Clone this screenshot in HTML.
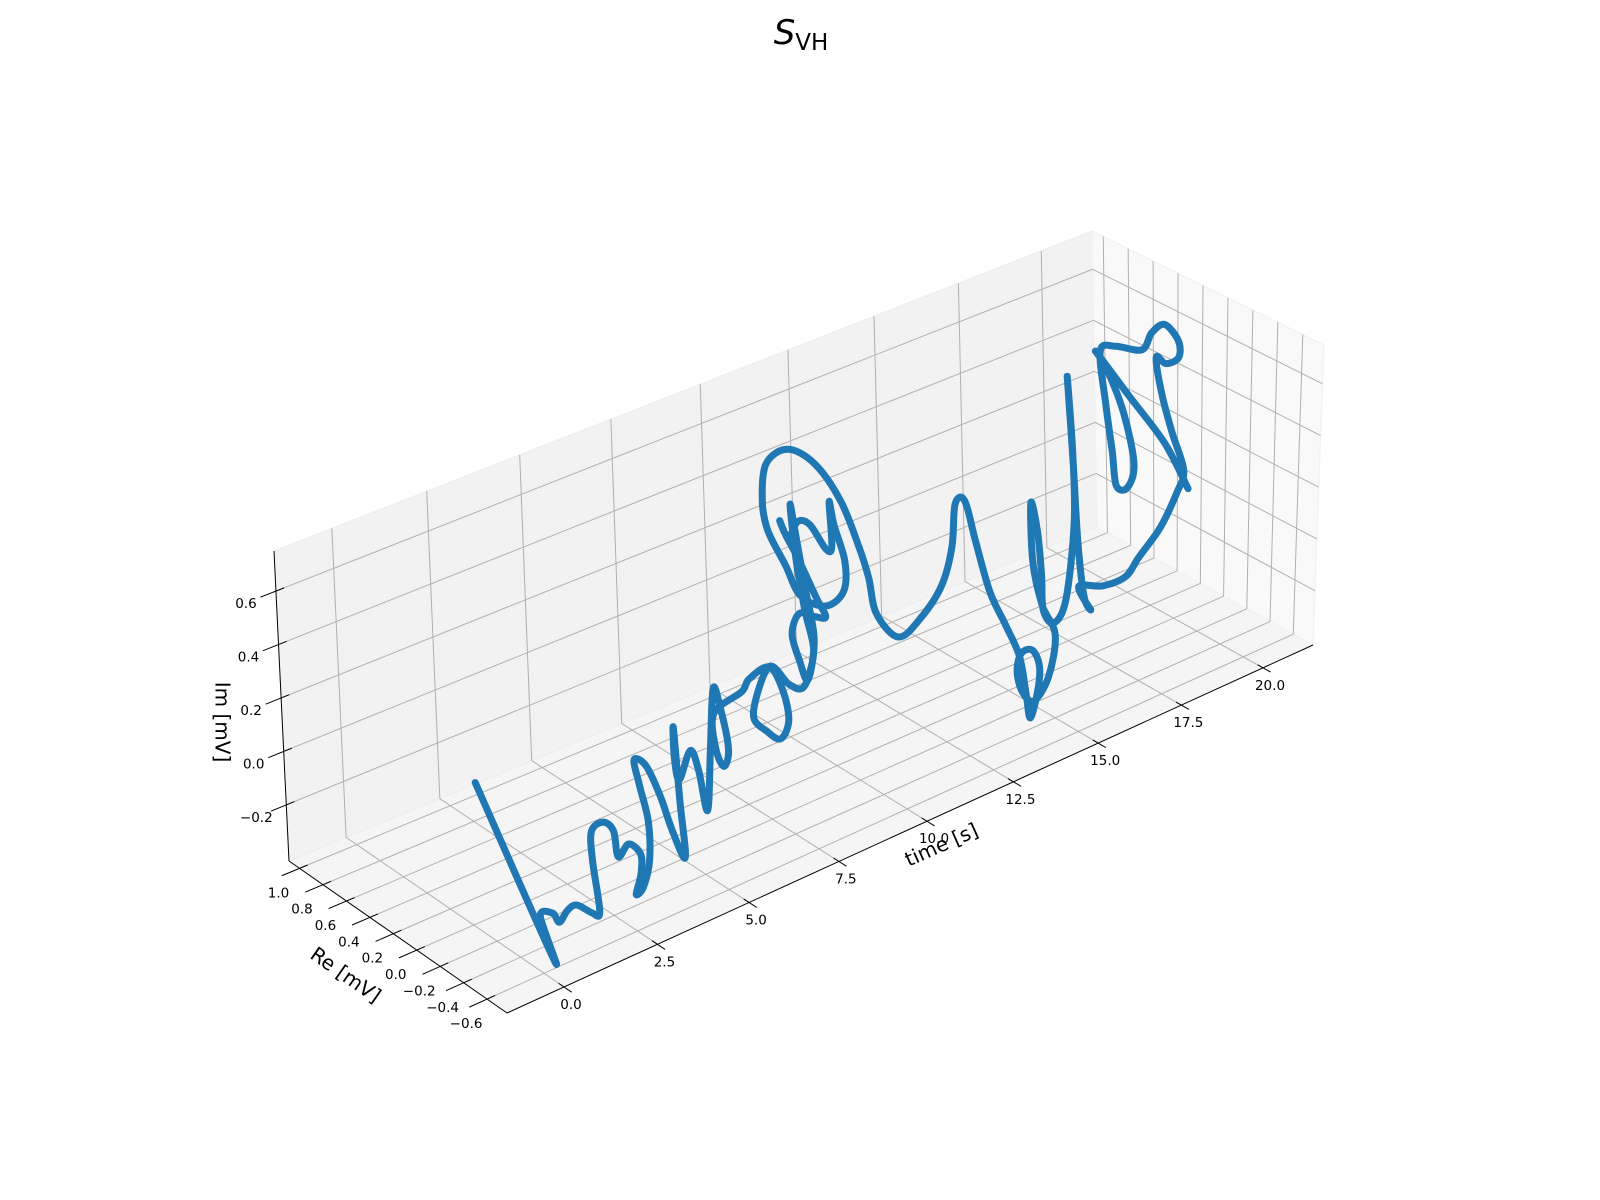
<!DOCTYPE html>
<html><head><meta charset="utf-8"><style>
html,body{margin:0;padding:0;background:#fff;}
svg{display:block;font-family:"DejaVu Sans","Liberation Sans",sans-serif;}
</style></head><body>
<svg id="chart" width="1600" height="1200" viewBox="0 0 1600 1200" xmlns="http://www.w3.org/2000/svg">
<rect width="1600" height="1200" fill="#ffffff"/>
<text x="801" y="44" text-anchor="middle" font-size="34" fill="#000"><tspan font-style="italic">S</tspan><tspan font-size="23" dy="6">VH</tspan></text>
<g id="panes"></g>
<g id="grid"></g>
<g id="axes"></g>
<g id="series"></g>
<text x="0" y="0" font-size="20" text-anchor="middle" dominant-baseline="middle" transform="translate(221,722) rotate(90)">Im [mV]</text>
<text x="0" y="0" font-size="20" text-anchor="middle" dominant-baseline="middle" transform="translate(345,976) rotate(35)">Re [mV]</text>
<text x="0" y="0" font-size="20" text-anchor="middle" dominant-baseline="middle" transform="translate(942,846) rotate(-24)">time [s]</text>
</svg>
<script>
const timeVals = [0.00,0.10,0.40,0.60,0.75,0.90,1.05,1.30,1.45,1.60,1.70,1.85,2.00,2.10,2.25,2.45,2.55,2.65,2.75,2.85,3.00,3.15,3.30,3.40,3.55,3.75,3.95,
4.05,4.20,4.30,4.40,4.50,4.60,4.75,4.85,4.95,5.05,5.15,5.25,5.35,5.45,5.60,5.70,5.85,6.00,6.10,6.20,6.30,6.40,6.55,6.70,6.80,6.90,7.00,
7.30,7.60,8.30,8.40,8.50,8.60,8.70,8.80,8.90,9.00,9.10,9.20,9.30,9.40,9.50,9.60,9.70,9.80,9.90,10.00,10.10,10.20,10.30,10.40,10.50,10.60,10.70,10.80,10.90,11.00,11.10,11.20,11.30,11.40,11.50,11.60,11.75,11.90,12.05,12.20,12.35,12.50,12.60,
12.75,12.90,13.05,13.20,13.35,13.45,13.55,13.65,13.75,13.85,13.95,14.05,14.15,14.25,14.35,14.45,14.55,14.65,14.75,14.85,14.95,15.05,15.15,15.25,15.35,15.90,16.00,16.10,16.20,16.30,16.40,16.50,16.60,16.70,16.85,17.20,17.35,17.50,17.65,18.30,18.60,18.75,19.20,19.35,19.45,19.50,19.60,19.70,19.75,19.80,19.85,19.90,19.95,20.00,20.05,20.10,20.20,20.30,20.40];
const reVals = [-0.03,-0.65,-0.44,-0.48,-0.49,-0.51,-0.54,-0.59,-0.61,-0.50,-0.46,-0.51,-0.55,-0.56,-0.60,-0.64,-0.61,-0.54,-0.57,-0.59,-0.53,-0.41,-0.32,-0.39,-0.46,-0.50,-0.55,
-0.47,-0.37,-0.35,-0.36,-0.42,-0.46,-0.49,-0.48,-0.47,-0.50,-0.54,-0.47,-0.37,-0.33,-0.51,-0.54,-0.66,-0.73,-0.75,-0.66,-0.52,-0.37,-0.45,-0.57,-0.65,-0.68,-0.68,
-0.52,-0.36,-0.11,-0.14,-0.18,-0.22,-0.14,-0.04,0.05,0.02,-0.08,-0.14,-0.03,0.14,0.27,0.35,0.31,0.26,0.19,0.09,0.07,0.12,0.11,0.05,0.09,0.27,0.51,0.66,0.83,0.90,0.89,0.74,0.55,0.37,0.25,0.20,0.18,0.04,-0.10,-0.23,-0.27,-0.25,-0.30,
-0.35,-0.43,-0.52,-0.60,-0.62,-0.63,-0.66,-0.64,-0.55,-0.43,-0.37,-0.39,-0.46,-0.55,-0.57,-0.43,-0.32,-0.27,-0.30,-0.31,-0.30,-0.36,-0.43,-0.46,-0.41,-0.21,-0.24,-0.26,-0.29,-0.32,-0.19,-0.36,-0.52,-0.60,-0.73,-0.76,-0.77,-0.63,-0.50,-0.28,-0.28,-0.34,-0.22,-0.07,0.06,0.15,0.39,0.54,0.51,0.47,0.45,0.37,0.33,0.43,0.58,0.68,0.43,0.17,0.00];
const imVals = [0.13,-0.35,-0.27,-0.26,-0.30,-0.26,-0.24,-0.27,-0.27,-0.12,-0.03,0.01,-0.02,-0.12,-0.07,-0.11,-0.20,-0.30,-0.27,-0.17,-0.05,0.04,0.10,0.09,-0.01,-0.14,-0.24,
-0.05,0.18,0.05,-0.03,0.09,0.02,-0.13,0.09,0.31,0.24,0.09,0.00,0.04,0.15,0.27,0.32,0.39,0.31,0.20,0.10,0.08,0.10,0.29,0.25,0.25,0.31,0.40,
0.48,0.61,0.71,0.56,0.39,0.21,0.03,0.07,0.14,0.22,0.23,0.24,0.28,0.37,0.42,0.45,0.39,0.46,0.46,0.39,0.40,0.55,0.46,0.33,0.20,0.09,0.06,0.13,0.21,0.30,0.44,0.53,0.52,0.42,0.27,0.16,0.02,-0.04,0.06,0.21,0.36,0.51,0.53,
0.38,0.20,0.09,-0.02,-0.17,-0.26,-0.15,-0.07,-0.04,-0.09,-0.18,-0.26,-0.28,-0.17,-0.01,0.06,0.19,0.40,0.29,0.12,-0.02,-0.06,0.04,0.34,0.59,0.80,0.47,0.17,-0.04,-0.09,-0.04,0.00,0.07,0.16,0.30,0.42,0.50,0.60,0.71,0.76,0.72,0.75,0.76,0.78,0.71,0.62,0.57,0.51,0.31,0.13,0.00,0.01,0.11,0.28,0.41,0.45,0.33,0.21,0.07];
const timeTicks = [0, 2.5, 5, 7.5, 10, 12.5, 15, 17.5, 20];
const timeTickLabels = ["0.0","2.5","5.0","7.5","10.0","12.5","15.0","17.5","20.0"];
const reTicks = [-0.6, -0.4, -0.2, 0.0, 0.2, 0.4, 0.6, 0.8, 1.0];
const reTickLabels = ["\u22120.6","\u22120.4","\u22120.2","0.0","0.2","0.4","0.6","0.8","1.0"];
const imTicks = [-0.2, 0.0, 0.2, 0.4, 0.6];
const imTickLabels = ["\u22120.2","0.0","0.2","0.4","0.6"];

const RE_MIN = -0.77, RE_MAX = 1.09, IM_MIN = -0.41, IM_MAX = 0.75;
const NS = "http://www.w3.org/2000/svg";

function tFrac(t){ return (57 + 37.76*t/(1+0.00402*t))/806; }
function rFrac(r){ return (r - RE_MIN)/(RE_MAX - RE_MIN); }
function zFrac(z){ return (z - IM_MIN)/(IM_MAX - IM_MIN); }
function projF(u, v, w){
  const fx = 507 + 806*u + v*(-218 + 2*u);
  const fy = 1013 - 368*u + v*(-152 + 34*u);
  const vx = 1 + 10*u - 16*v, vy = -314 + 14*u + 4*v;
  return [fx + vx*w, fy + vy*w];
}
function proj(t, r, z){ return projF(tFrac(t), rFrac(r), zFrac(z)); }

function mk(tag, attrs, parent){
  const el = document.createElementNS(NS, tag);
  for (const k in attrs) el.setAttribute(k, attrs[k]);
  parent.appendChild(el);
  return el;
}
function poly(pts){ return pts.map(p => p[0].toFixed(1)+","+p[1].toFixed(1)).join(" "); }

const panes = document.getElementById("panes");
const grid = document.getElementById("grid");
const axes = document.getElementById("axes");
const series = document.getElementById("series");

let p = mk("polygon", {points: poly([projF(0,0,0),projF(1,0,0),projF(1,1,0),projF(0,1,0)]), fill:"#f5f5f5", stroke:"#f0f0f0"}, panes);


p = mk("polygon", {points: poly([projF(0,1,0),projF(1,1,0),projF(1,1,1),projF(0,1,1)]), fill:"#f2f2f2", stroke:"#ededed"}, panes);


p = mk("polygon", {points: poly([projF(1,0,0),projF(1,1,0),projF(1,1,1),projF(1,0,1)]), fill:"#f9f9f9", stroke:"#f0f0f0"}, panes);



function gline(a, b, name){
  const l = mk("line", {x1:a[0], y1:a[1], x2:b[0], y2:b[1], stroke:"#b0b0b0", "stroke-width":1}, grid);
  
  
}
timeTicks.forEach(t => {
  const u = tFrac(t);
  gline(projF(u,0,0), projF(u,1,0), "time-grid-floor");
  gline(projF(u,1,0), projF(u,1,1), "time-grid-back");
});
reTicks.forEach(r => {
  const v = rFrac(r);
  gline(projF(0,v,0), projF(1,v,0), "re-grid-floor");
  gline(projF(1,v,0), projF(1,v,1), "re-grid-side");
});
imTicks.forEach(z => {
  const w = zFrac(z);
  gline(projF(0,1,w), projF(1,1,w), "im-grid-back");
  gline(projF(1,1,w), projF(1,0,w), "im-grid-side");
});

function aline(a, b, name){
  const l = mk("line", {x1:a[0], y1:a[1], x2:b[0], y2:b[1], stroke:"#000", "stroke-width":1}, axes);
  
  
}
function label(x, y, txt, name){
  const tx = mk("text", {x:x, y:y, "font-size":13.5, "text-anchor":"middle", "dominant-baseline":"middle", fill:"#000"}, axes);
  tx.textContent = txt;
  
  
}
aline(projF(0,0,0), projF(1,0,0), "x-axis-line");
aline(projF(0,0,0), projF(0,1,0), "y-axis-line");
aline(projF(0,1,0), projF(0,1,1), "z-axis-line");

timeTicks.forEach((t,i) => {
  const u = tFrac(t);
  aline(projF(u,0.025,0), projF(u,-0.035,0), "x-tick");
  const q = projF(u,0,0);
  label(q[0]+7, q[1]+18, timeTickLabels[i], "x-tick-label");
});
reTicks.forEach((r,i) => {
  const v = rFrac(r);
  aline(projF(0.01,v,0), projF(-0.022,v,0), "y-tick");
  const q = projF(0,v,0);
  label(q[0]-21, q[1]+25, reTickLabels[i], "y-tick-label");
});
imTicks.forEach((z,i) => {
  const w = zFrac(z);
  aline(projF(0.01,1,w), projF(-0.019,1,w), "z-tick");
  const q = projF(0,1,w);
  label(q[0]-30, q[1]+13, imTickLabels[i], "z-tick-label");
});

// smooth trajectory through projected data points (Catmull-Rom)
const pts = timeVals.map((t,i) => proj(t, reVals[i], imVals[i]));
let d = "M" + pts[0][0].toFixed(1) + "," + pts[0][1].toFixed(1);
for (let i = 0; i < pts.length - 1; i++) {
  const p0 = pts[Math.max(0, i-1)], p1 = pts[i], p2 = pts[i+1], p3 = pts[Math.min(pts.length-1, i+2)];
  const c1x = p1[0] + (p2[0]-p0[0])/6, c1y = p1[1] + (p2[1]-p0[1])/6;
  const c2x = p2[0] - (p3[0]-p1[0])/6, c2y = p2[1] - (p3[1]-p1[1])/6;
  d += " C" + c1x.toFixed(1) + "," + c1y.toFixed(1) + " " + c2x.toFixed(1) + "," + c2y.toFixed(1) + " " + p2[0].toFixed(1) + "," + p2[1].toFixed(1);
}
const line = mk("path", {d: d, fill:"none", stroke:"#1f77b4", "stroke-width":7, "stroke-linejoin":"round", "stroke-linecap":"round"}, series);


</script>
</body></html>
